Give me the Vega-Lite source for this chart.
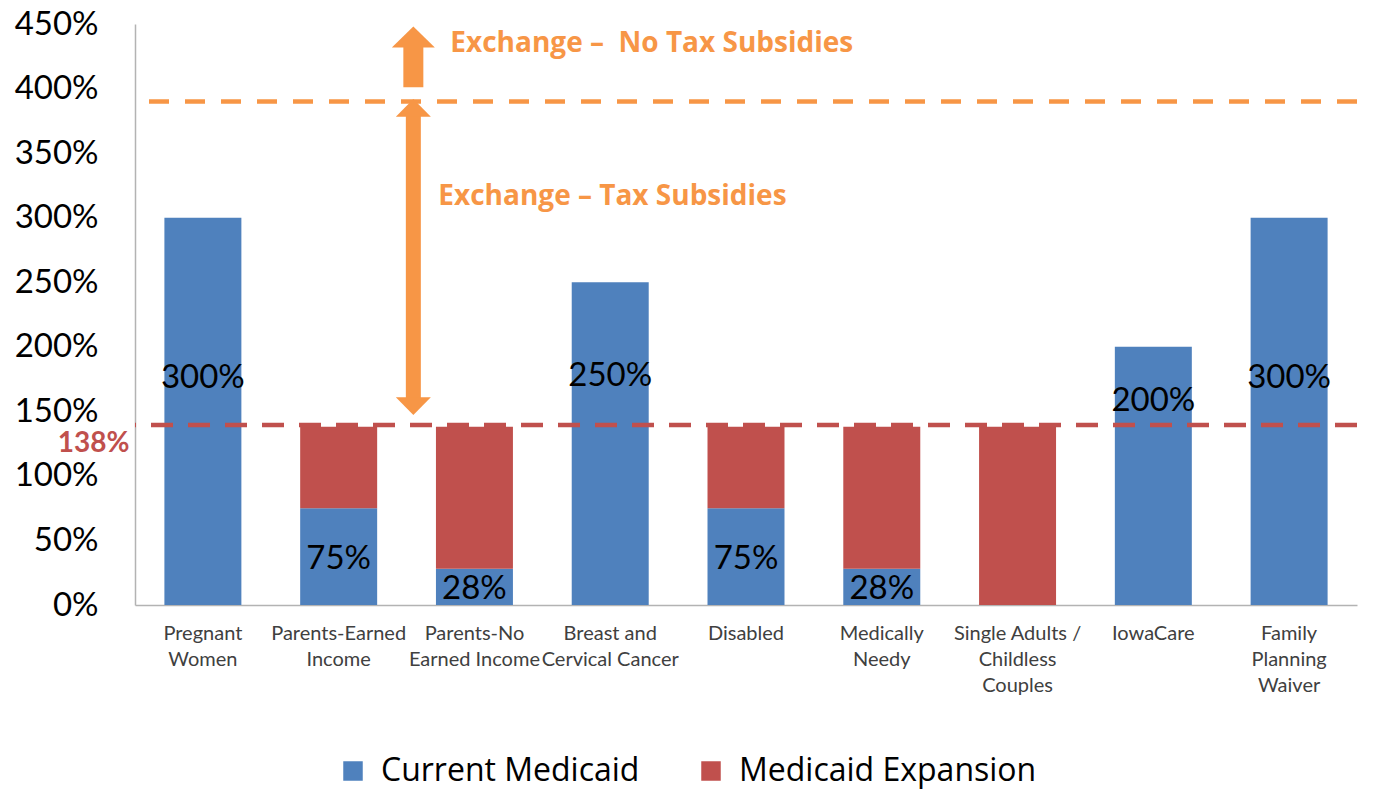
{
  "$schema": "https://vega.github.io/schema/vega-lite/v6.json",
  "width": 1222,
  "height": 581,
  "autosize": {"type": "none"},
  "padding": {"left": 135, "top": 24, "right": 17, "bottom": 186},
  "config": {
    "view": {"stroke": null},
    "font": "Lato",
    "axis": {"grid": false, "ticks": false, "domainColor": "#B3B3B3", "domainWidth": 1.5, "title": null}
  },
  "datasets": {
    "bars": [
      {"cat": "Pregnant Women", "series": "Current Medicaid", "value": 300, "ord": 1},
      {"cat": "Parents-Earned Income", "series": "Current Medicaid", "value": 75, "ord": 1},
      {"cat": "Parents-Earned Income", "series": "Medicaid Expansion", "value": 63, "ord": 2},
      {"cat": "Parents-No Earned Income", "series": "Current Medicaid", "value": 28, "ord": 1},
      {"cat": "Parents-No Earned Income", "series": "Medicaid Expansion", "value": 110, "ord": 2},
      {"cat": "Breast and Cervical Cancer", "series": "Current Medicaid", "value": 250, "ord": 1},
      {"cat": "Disabled", "series": "Current Medicaid", "value": 75, "ord": 1},
      {"cat": "Disabled", "series": "Medicaid Expansion", "value": 63, "ord": 2},
      {"cat": "Medically Needy", "series": "Current Medicaid", "value": 28, "ord": 1},
      {"cat": "Medically Needy", "series": "Medicaid Expansion", "value": 110, "ord": 2},
      {"cat": "Single Adults / Childless Couples", "series": "Medicaid Expansion", "value": 138, "ord": 2},
      {"cat": "IowaCare", "series": "Current Medicaid", "value": 200, "ord": 1},
      {"cat": "Family Planning Waiver", "series": "Current Medicaid", "value": 300, "ord": 1}
    ],
    "labels": [
      {"cat": "Pregnant Women", "label": "300%", "labelAt": 176},
      {"cat": "Parents-Earned Income", "label": "75%", "labelAt": 36},
      {"cat": "Parents-No Earned Income", "label": "28%", "labelAt": 12.5},
      {"cat": "Breast and Cervical Cancer", "label": "250%", "labelAt": 177},
      {"cat": "Disabled", "label": "75%", "labelAt": 36},
      {"cat": "Medically Needy", "label": "28%", "labelAt": 12.5},
      {"cat": "IowaCare", "label": "200%", "labelAt": 158},
      {"cat": "Family Planning Waiver", "label": "300%", "labelAt": 176}
    ]
  },
  "layer": [
    {
      "data": {"name": "bars"},
      "mark": {"type": "bar"},
      "encoding": {
        "x": {
          "field": "cat", "type": "nominal", "title": null,
          "scale": {
            "domain": ["Pregnant Women", "Parents-Earned Income", "Parents-No Earned Income", "Breast and Cervical Cancer", "Disabled", "Medically Needy", "Single Adults / Childless Couples", "IowaCare", "Family Planning Waiver"],
            "paddingInner": 0.433, "paddingOuter": 0.2165
          },
          "axis": {
            "labelAngle": 0,
            "labelFontSize": 20,
            "labelColor": "#404040",
            "labelPadding": 18,
            "labelLineHeight": 26,
            "labelLimit": 300,
            "labelExpr": "({'Pregnant Women': ['Pregnant', 'Women'], 'Parents-Earned Income': ['Parents-Earned', 'Income'], 'Parents-No Earned Income': ['Parents-No', 'Earned Income'], 'Breast and Cervical Cancer': ['Breast and', 'Cervical Cancer'], 'Disabled': ['Disabled'], 'Medically Needy': ['Medically', 'Needy'], 'Single Adults / Childless Couples': ['Single Adults /', 'Childless', 'Couples'], 'IowaCare': ['IowaCare'], 'Family Planning Waiver': ['Family', 'Planning', 'Waiver']})[datum.label]"
          }
        },
        "y": {
          "field": "value", "type": "quantitative", "stack": "zero", "title": null,
          "scale": {"domain": [0, 450], "nice": false},
          "axis": {
            "values": [0, 50, 100, 150, 200, 250, 300, 350, 400, 450],
            "labelExpr": "datum.value + '%'",
            "labelFontSize": 33,
            "labelColor": "#000000",
            "labelPadding": 37
          }
        },
        "color": {
          "field": "series", "type": "nominal",
          "scale": {"domain": ["Current Medicaid", "Medicaid Expansion"], "range": ["#4F81BD", "#C0504D"]},
          "legend": {
            "title": null,
            "orient": "none",
            "direction": "horizontal",
            "legendX": 202,
            "legendY": 731,
            "symbolType": "square",
            "symbolSize": 380,
            "symbolStrokeWidth": 0,
            "labelFont": "Open Sans",
            "labelFontSize": 32,
            "labelColor": "#000000",
            "labelOffset": 12,
            "columnPadding": 55,
            "labelLimit": 400
          }
        },
        "order": {"field": "ord", "type": "quantitative"}
      }
    },
    {
      "data": {"values": [{"level": 139.5}]},
      "mark": {"type": "rule", "color": "#C0504D", "strokeWidth": 4.5, "strokeDash": [22, 15]},
      "encoding": {"y": {"field": "level", "type": "quantitative", "title": null}}
    },
    {
      "data": {"values": [{"level": 390}]},
      "mark": {"type": "rule", "color": "#F79646", "strokeWidth": 4.5, "strokeDash": [20, 16]},
      "encoding": {"y": {"field": "level", "type": "quantitative", "title": null}}
    },
    {
      "data": {"name": "labels"},
      "mark": {"type": "text", "fontSize": 33, "color": "#000000", "baseline": "middle", "align": "center"},
      "encoding": {
        "x": {"field": "cat", "type": "nominal", "title": null},
        "y": {"field": "labelAt", "type": "quantitative", "title": null},
        "text": {"field": "label"}
      }
    },
    {
      "data": {"values": [{"cat": "Pregnant Women", "label": "138%", "level": 138}]},
      "mark": {"type": "text", "fontSize": 28, "fontWeight": "bold", "color": "#C0504D", "align": "right", "baseline": "middle", "dx": -35, "dy": 17},
      "encoding": {
        "x": {"field": "cat", "type": "nominal", "bandPosition": 0, "title": null},
        "y": {"field": "level", "type": "quantitative", "title": null},
        "text": {"field": "label"}
      }
    },
    {
      "data": {"values": [{"cat": "Parents-Earned Income", "from": 158, "to": 381}]},
      "mark": {"type": "rule", "color": "#F79646", "strokeWidth": 15},
      "encoding": {
        "x": {"field": "cat", "type": "nominal", "bandPosition": 1.47, "title": null},
        "y": {"field": "from", "type": "quantitative", "title": null},
        "y2": {"field": "to"}
      }
    },
    {
      "data": {"values": [{"cat": "Parents-Earned Income", "from": 401, "to": 434}]},
      "mark": {"type": "rule", "color": "#F79646", "strokeWidth": 20},
      "encoding": {
        "x": {"field": "cat", "type": "nominal", "bandPosition": 1.47, "title": null},
        "y": {"field": "from", "type": "quantitative", "title": null},
        "y2": {"field": "to"}
      }
    },
    {
      "data": {"values": [{"cat": "Parents-Earned Income", "at": 385}]},
      "mark": {"type": "point", "filled": true, "opacity": 1, "color": "#F79646", "size": 1225, "shape": "M-1,0.51L1,0.51L0,-0.51Z", "strokeWidth": 0},
      "encoding": {
        "x": {"field": "cat", "type": "nominal", "bandPosition": 1.47, "title": null},
        "y": {"field": "at", "type": "quantitative", "title": null}
      }
    },
    {
      "data": {"values": [{"cat": "Parents-Earned Income", "at": 154}]},
      "mark": {"type": "point", "filled": true, "opacity": 1, "color": "#F79646", "size": 1225, "shape": "M-1,-0.51L1,-0.51L0,0.51Z", "strokeWidth": 0},
      "encoding": {
        "x": {"field": "cat", "type": "nominal", "bandPosition": 1.47, "title": null},
        "y": {"field": "at", "type": "quantitative", "title": null}
      }
    },
    {
      "data": {"values": [{"cat": "Parents-Earned Income", "at": 440}]},
      "mark": {"type": "point", "filled": true, "opacity": 1, "color": "#F79646", "size": 1849, "shape": "M-1,0.49L1,0.49L0,-0.49Z", "strokeWidth": 0},
      "encoding": {
        "x": {"field": "cat", "type": "nominal", "bandPosition": 1.47, "title": null},
        "y": {"field": "at", "type": "quantitative", "title": null}
      }
    },
    {
      "data": {"values": [
        {"cat": "Parents-Earned Income", "text": "Exchange – \u00a0No Tax Subsidies", "at": 434.5}
      ]},
      "mark": {"type": "text", "font": "Open Sans", "fontSize": 28, "fontWeight": "bold", "color": "#F79646", "align": "left", "baseline": "middle", "dx": 37},
      "encoding": {
        "x": {"field": "cat", "type": "nominal", "bandPosition": 1.47, "title": null},
        "y": {"field": "at", "type": "quantitative", "title": null},
        "text": {"field": "text"}
      }
    },
    {
      "data": {"values": [
        {"cat": "Parents-Earned Income", "text": "Exchange – Tax Subsidies", "at": 316}
      ]},
      "mark": {"type": "text", "font": "Open Sans", "fontSize": 28, "fontWeight": "bold", "color": "#F79646", "align": "left", "baseline": "middle", "dx": 25},
      "encoding": {
        "x": {"field": "cat", "type": "nominal", "bandPosition": 1.47, "title": null},
        "y": {"field": "at", "type": "quantitative", "title": null},
        "text": {"field": "text"}
      }
    }
  ]
}
